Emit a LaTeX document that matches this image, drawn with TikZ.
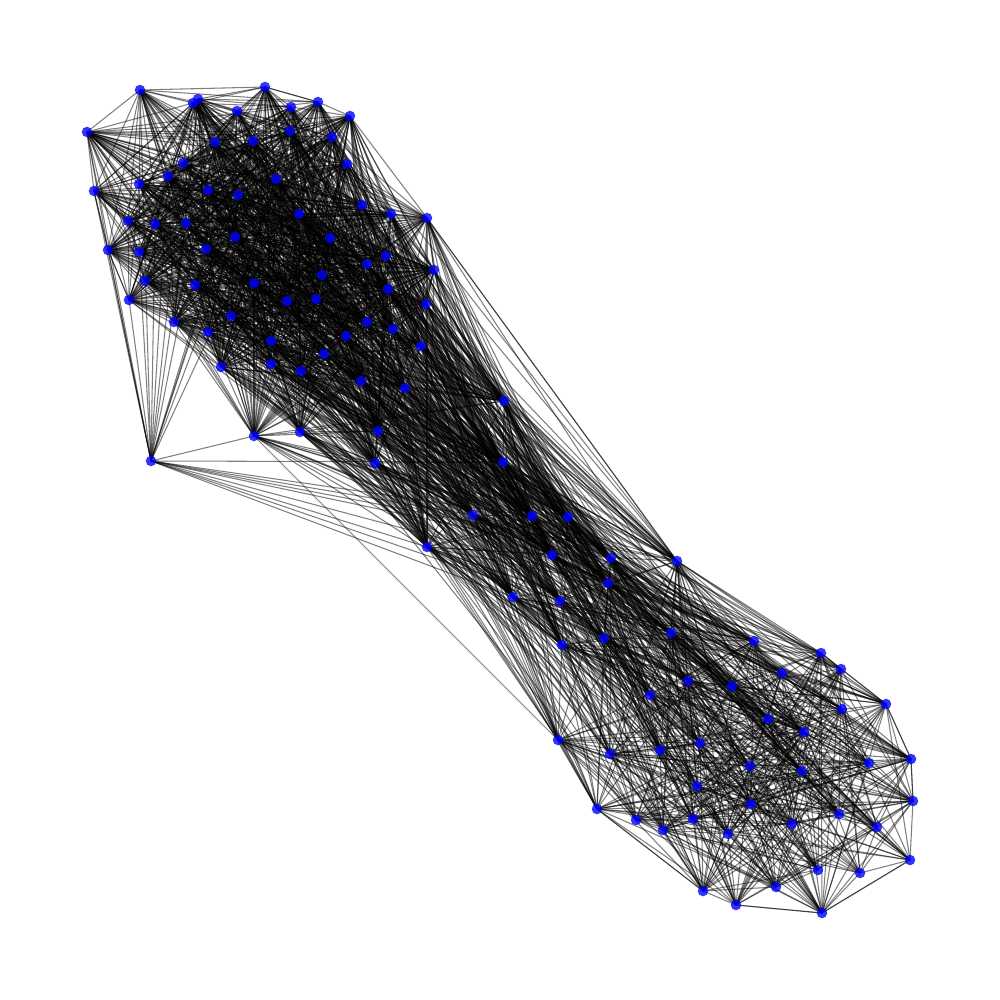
\documentclass[tikz,border=0pt]{standalone}
\usetikzlibrary{backgrounds}
\tikzset{
  vertex/.style={circle,fill=blue,fill opacity=0.8,inner sep=0pt,minimum size=0.105cm},
  linkline/.style={black,opacity=0.5,line width=0.3pt}
}
\def\vertexlist{140/90,265/87,193/103,198/99,237/111,291/107,318/102,350/116,87/132,215/142,
  253/141,290/131,332/137,347/164,183/163,168/176,139/184,94/191,208/190,238/195,
  276/179,362/205,391/214,427/218,299/214,128/221,155/224,186/223,108/250,139/252,
  206/249,235/237,330/238,386/256,367/264,434/270,145/281,195/285,254/283,322/275,
  388/289,129/300,287/301,316/299,426/304,174/322,231/316,208/332,367/322,393/329,
  346/336,271/341,421/346,324/354,221/367,271/364,301/371,361/381,405/388,254/436,
  300/432,378/431,375/463,151/461,504/401,503/462,473/515,532/516,568/517,427/547,
  552/555,611/558,608/583,513/597,560/601,677/561,562/645,604/638,671/633,754/641,
  821/653,841/669,782/673,688/681,732/686,650/695,886/704,842/709,768/719,804/732,
  700/743,660/750,610/754,558/740,911/759,869/763,750/766,802/771,697/786,751/804,
  913/801,597/809,636/820,663/830,693/819,728/834,792/824,839/814,877/827,910/860,
  860/873,818/870,776/887,703/891,736/905,822/913}
% how far the pair's line passes below a point of the outline
\newcommand{\sidetest}[2]{((\yb-\ya)/100*(#1-\xa)/100-(#2-\ya)/100*(\xb-\xa)/100)*(\xb>\xa?1:-1)}
\begin{document}
\begin{tikzpicture}[x=0.01cm,y=-0.01cm]
  \useasboundingbox (0,0) rectangle (1000,1000);
  \foreach \px/\py [count=\i] in \vertexlist
    \node[vertex] (v\i) at (\px,\py) {};
  \pgfmathsetseed{4711}
  \begin{pgfonlayer}{background}
    % links between vertices, denser in the upper cluster
    \foreach \xa/\ya [count=\i] in \vertexlist {
      \foreach \xb/\yb [count=\j] in \vertexlist {
        \ifnum\j>\i
          \pgfmathsetmacro\sdiff{abs(\xa+\ya-\xb-\yb)}
          \pgfmathsetmacro\prob{\sdiff<550 ? ((\xa+\ya+\xb+\yb)<2000 ? 0.62 : 0.47) : max(0,0.45*(960-\sdiff)/410)}
          % keep out of the three hollows of the outline
          \pgfmathtruncatemacro\lownotch{and(min(\xa,\xb)<490,max(\xa,\xb)>490) ? (\sidetest{490}{640}>0 ? 0 : 1) : 1}
          \pgfmathtruncatemacro\upnotch{and(min(\xa,\xb)<677,max(\xa,\xb)>677) ? (\sidetest{677}{561}<0 ? 0 : 1) : 1}
          \pgfmathtruncatemacro\leftnotch{and(min(\xa,\xb)<200,max(\xa,\xb)>200) ? ((\sidetest{200}{365}>0 || \i==64) ? 0 : 1) : 1}
          \pgfmathtruncatemacro\pick{and(rnd<\prob,\lownotch*\upnotch*(\i==64 ? 1 : \leftnotch)>0) ? 1 : 0}
          \ifnum\pick=1
            \draw[linkline] (v\i.center) -- (v\j.center);
          \fi
        \fi
      }
    }
    % outline
    \foreach \i/\j in {1/2,1/9,9/18,18/29,29/42,29/64,42/64,64/60,2/7,7/8,8/24,24/36,36/45,24/76,76/81,81/82,82/87,87/95,95/101,101/110,110/116,116/115,115/114,114/102,102/94,94/60,64/70}
      \draw[linkline] (v\i.center) -- (v\j.center);
  \end{pgfonlayer}
\end{tikzpicture}
\end{document}
